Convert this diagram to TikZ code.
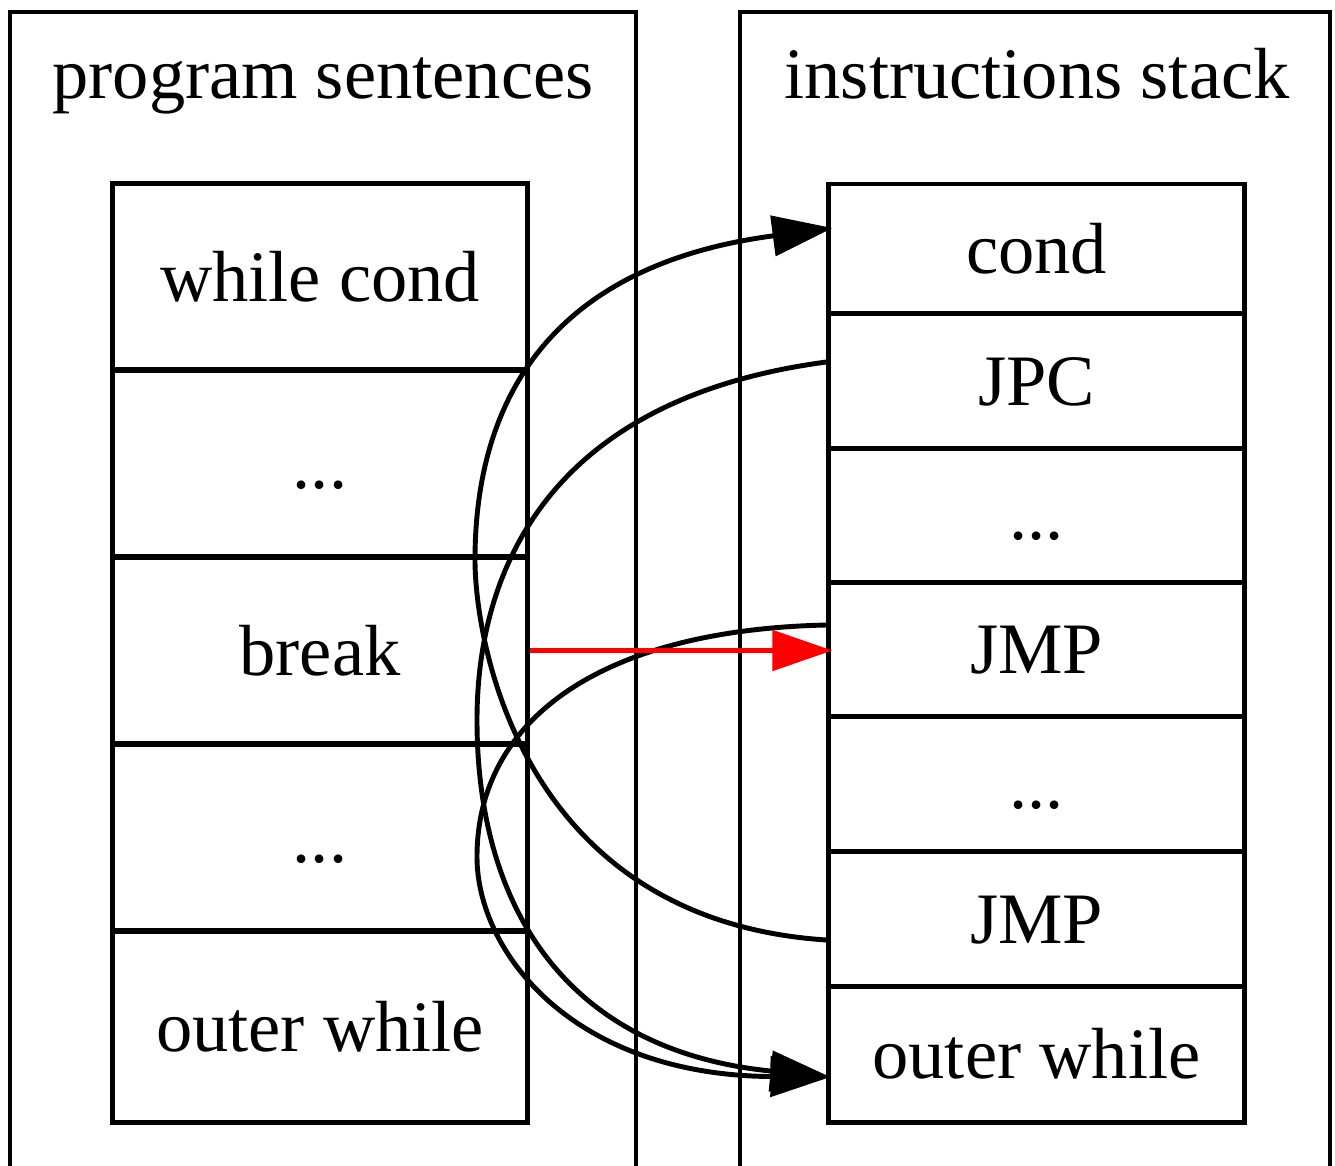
\documentclass[tikz,border=0pt]{standalone}
\usepackage{fontspec}
\setmainfont{Liberation Serif}
\usetikzlibrary{arrows.meta,calc}
\begin{document}
\begin{tikzpicture}[x=0.01cm,y=-0.01cm,
  every node/.style={font=\fontsize{20.6}{24}\selectfont},
  cell/.style={draw, line width=1.4pt, inner sep=0pt, text height=14.2pt, text depth=0pt},
  lcell/.style={cell, minimum width=4.14cm},
  rcell/.style={cell, minimum width=4.15cm},
  cluster/.style={line width=1.4pt},
  title/.style={anchor=base, inner sep=0pt},
  edge/.style={line width=1.4pt, -{Triangle[length=0.6cm,width=0.4cm]}},
]
\useasboundingbox (0,0) rectangle (1335,1166);
% clusters
\draw[cluster] (10,1170) -- (10,12) -- (636,12) -- (636,1170);
\draw[cluster] (740,1170) -- (740,12) -- (1330,12) -- (1330,1170);
\node[title] (tl) at (323,98) {program sentences};
\node[title] (tr) at (1037,98) {instructions stack};
% left record
\node[lcell, minimum height=1.86cm] (l1) at (320,277) {while cond};
\node[lcell, minimum height=1.87cm] (l2) at (320,463.5) {...};
\node[lcell, minimum height=1.87cm] (l3) at (320,650.5) {break};
\node[lcell, minimum height=1.87cm] (l4) at (320,837.5) {...};
\node[lcell, minimum height=1.91cm] (l5) at (320,1026.5) {outer while};
% right record
\node[rcell, minimum height=1.29cm] (r1) at (1036.5,248.5) {cond};
\node[rcell, minimum height=1.35cm] (r2) at (1036.5,380.5) {JPC};
\node[rcell, minimum height=1.34cm] (r3) at (1036.5,515) {...};
\node[rcell, minimum height=1.34cm] (r4) at (1036.5,649) {JMP};
\node[rcell, minimum height=1.35cm] (r5) at (1036.5,783.5) {...};
\node[rcell, minimum height=1.35cm] (r6) at (1036.5,918.5) {JMP};
\node[rcell, minimum height=1.36cm] (r7) at (1036.5,1054) {outer while};
% edges
\draw[edge] ($(r6.west)+(0,21.5)$) .. controls (520,920) and (475,640) .. (475,560)
  .. controls (475,390) and (560,264) .. ($(r1.west)+(6,-20.5)$);
\draw[edge] ($(r2.west)+(0,-18.5)$) .. controls (540,400) and (477,580) .. (477,720)
  .. controls (477,900) and (560,1050) .. ($(r7.west)+(4,23)$);
\draw[edge] ($(r4.west)+(0,-24)$) .. controls (600,630) and (477,720) .. (477,857)
  .. controls (477,950) and (570,1075) .. ($(r7.west)+(4,23)$);
\draw[edge, red] (l3.east) -- ($(l3.east -| r4.west)+(6,0)$);
\end{tikzpicture}
\end{document}
